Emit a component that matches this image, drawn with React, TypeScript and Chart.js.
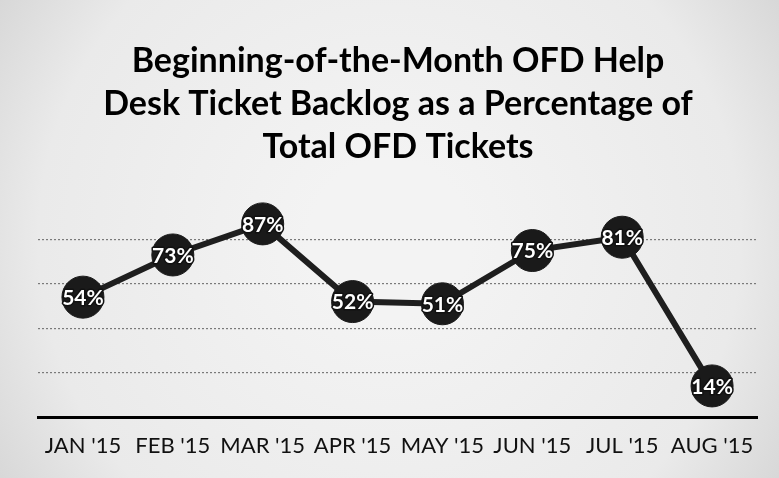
import React, { useEffect, useRef } from "react";
import { Chart, registerables } from "chart.js";

Chart.register(...registerables);

const categories = ["JAN '15", "FEB '15", "MAR '15", "APR '15", "MAY '15", "JUN '15", "JUL '15", "AUG '15"];
const backlogPct = [54, 73, 87, 52, 51, 75, 81, 14];
const titleLines = ["Beginning-of-the-Month OFD Help", "Desk Ticket Backlog as a Percentage of", "Total OFD Tickets"];
const yMin = 0;
const yMax = 100;
const yStep = 20;

const bgPlugin = {
  id: "bgPlugin",
  beforeDraw(chart: any) {
    const { ctx, width, height } = chart;
    ctx.save();
    const g = ctx.createRadialGradient(width / 2, height / 2, 80, width / 2, height / 2, width * 0.6);
    g.addColorStop(0, "#f3f3f3");
    g.addColorStop(0.7, "#eaeaea");
    g.addColorStop(1, "#d6d6d6");
    ctx.fillStyle = g;
    ctx.fillRect(0, 0, width, height);
    ctx.restore();
  },
};

const labelPlugin = {
  id: "labelPlugin",
  afterDatasetsDraw(chart: any) {
    const { ctx } = chart;
    const meta = chart.getDatasetMeta(0);
    const data = chart.data.datasets[0].data;
    ctx.save();
    ctx.font = "bold 21px Lato, 'Open Sans', sans-serif";
    ctx.textAlign = "center";
    ctx.textBaseline = "middle";
    ctx.lineJoin = "round";
    meta.data.forEach((pt: any, i: number) => {
      const txt = data[i] + "%";
      ctx.lineWidth = 3;
      ctx.strokeStyle = "#111";
      ctx.strokeText(txt, pt.x, pt.y + 1);
      ctx.fillStyle = "#ffffff";
      ctx.fillText(txt, pt.x, pt.y + 1);
    });
    ctx.restore();
  },
};

export default function App() {
  const ref = useRef<HTMLCanvasElement | null>(null);
  useEffect(() => {
    if (!ref.current) return;
    const chart = new Chart(ref.current, {
      type: "line",
      data: {
        labels: categories,
        datasets: [
          {
            data: backlogPct,
            borderColor: "#1e1e1e",
            borderWidth: 6,
            pointRadius: 21,
            pointBackgroundColor: "#1a1a1a",
            pointBorderColor: "#1a1a1a",
            pointBorderWidth: 1,
            tension: 0,
          },
        ],
      },
      options: {
        responsive: false,
        animation: false,
        layout: { padding: { left: 38, right: 21, top: 0, bottom: 0 } },
        plugins: {
          legend: { display: false },
          tooltip: { enabled: false },
          title: {
            display: true,
            text: titleLines,
            color: "#000",
            font: { family: "Lato, 'Open Sans', sans-serif", size: 34, weight: "bold", lineHeight: 1.265 },
            padding: { top: 40, bottom: 26 },
          },
        },
        scales: {
          x: {
            offset: true,
            grid: { display: false, drawTicks: false },
            border: { display: true, color: "#000", width: 3 },
            ticks: {
              color: "#111",
              padding: 16,
              font: { family: "Lato, 'Open Sans', sans-serif", size: 22 },
              maxRotation: 0,
            },
            afterFit(scale: any) {
              scale.height = 61;
            },
          },
          y: {
            min: yMin,
            max: yMax,
            ticks: { display: false, stepSize: yStep },
            border: { display: false, dash: [2, 2] },
            grid: {
              drawTicks: false,
              color: (c: any) => (c.tick && (c.tick.value === yMin || c.tick.value === yMax) ? "rgba(0,0,0,0)" : "#7a7a7a"),
              lineWidth: 1.2,
            },
            afterFit(scale: any) {
              scale.width = 0;
            },
          },
        },
      } as any,
      plugins: [bgPlugin, labelPlugin],
    });
    return () => chart.destroy();
  }, []);
  return (
    <div style={{ position: "fixed", left: 0, top: 0, width: 779, height: 478 }}>
      <canvas ref={ref} width={779} height={478} style={{ width: 779, height: 478, display: "block" }} />
    </div>
  );
}
